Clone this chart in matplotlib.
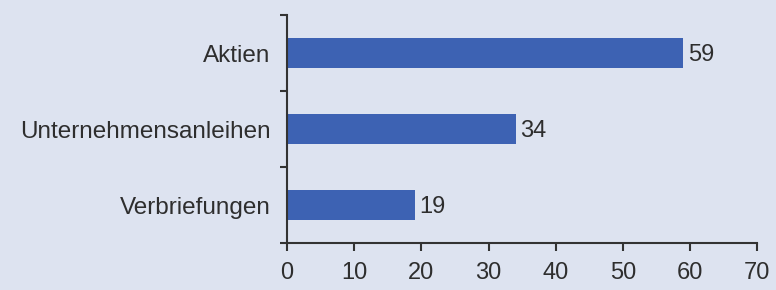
import matplotlib.pyplot as plt
import numpy as np

categories = ['Aktien', 'Unternehmensanleihen', 'Verbriefungen']
values = [59, 34, 19]
xticks = [0, 10, 20, 30, 40, 50, 60, 70]

bg = '#dde3f0'
bar_color = '#3d62b3'
txt = '#2e2e2e'

plt.rcParams['font.family'] = ['Liberation Sans', 'DejaVu Sans']

fig = plt.figure(figsize=(7.76, 2.9), dpi=100, facecolor=bg)
ax = fig.add_axes([0.370, 0.162, 0.606, 0.786], facecolor=bg)

y = np.arange(len(categories))[::-1]
ax.barh(y, values, height=0.4, color=bar_color)

for yi, v in zip(y, values):
    ax.text(v + 0.7, yi - 0.02, str(v), va='center', ha='left', fontsize=17, color=txt)

ax.set_xlim(0, 70)
ax.set_ylim(-0.5, 2.5)
ax.set_xticks(xticks)
ax.set_xticklabels([str(t) for t in xticks])
ax.set_yticks(y)
ax.set_yticklabels(categories)
ax.set_yticks([-0.5, 0.5, 1.5, 2.5], minor=True)

for s in ['top', 'right']:
    ax.spines[s].set_visible(False)
for s in ['left', 'bottom']:
    ax.spines[s].set_color('#333333')
    ax.spines[s].set_linewidth(1.5)

ax.tick_params(axis='x', direction='out', length=6, width=1.5, colors='#333333',
               labelsize=17, labelcolor=txt, pad=8)
ax.tick_params(axis='y', which='major', length=0, labelsize=17.5, labelcolor=txt, pad=12)
ax.tick_params(axis='y', which='minor', direction='out', length=5, width=1.5, colors='#333333')

plt.savefig('out.png', dpi=100, facecolor=bg)
